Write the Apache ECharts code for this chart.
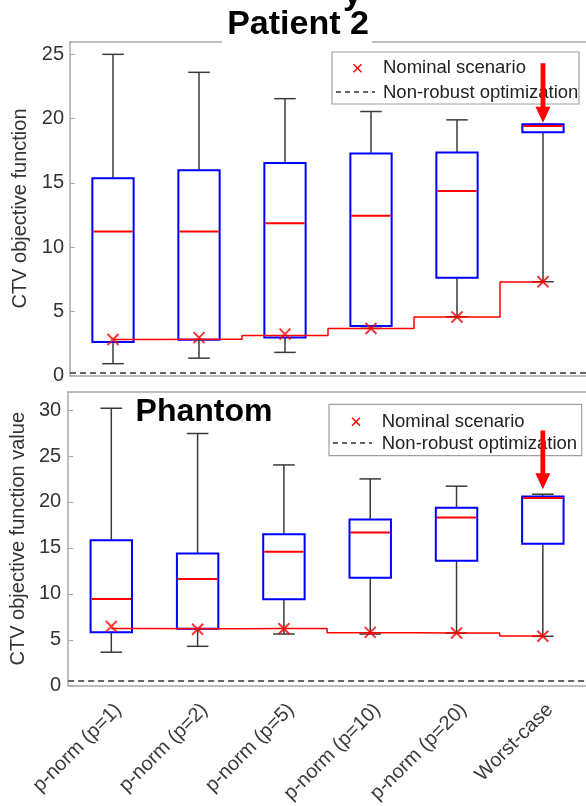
<!DOCTYPE html>
<html><head><meta charset="utf-8">
<script src="https://cdn.jsdelivr.net/npm/echarts@6/dist/echarts.min.js"></script>
<style>html,body{margin:0;padding:0;background:#fff;}#c{width:586px;height:806px;}</style>
</head><body><div id="c"></div>
<script>
// ---------- data ----------
const categories = ['p-norm (p=1)', 'p-norm (p=2)', 'p-norm (p=5)', 'p-norm (p=10)', 'p-norm (p=20)', 'Worst-case'];

// Patient 2 (top panel)
const p2Min     = [0.92, 1.35, 1.80, 3.67, 4.57, 7.30];
const p2Q1      = [2.60, 2.78, 2.96, 3.86, 7.60, 18.93];
const p2Median  = [11.20, 11.20, 11.85, 12.43, 14.36, 19.42];
const p2Q3      = [15.35, 15.98, 16.55, 17.28, 17.36, 19.55];
const p2Max     = [25.00, 23.60, 21.55, 20.55, 19.90, 19.55];
const p2Nominal = [2.80, 2.95, 3.22, 3.66, 4.56, 7.30];
const p2Step    = [2.80, 2.82, 3.12, 3.66, 4.56, 7.28];
const p2NonRobust = 0.25;
const p2Arrow = [5, 24.3, 19.67];
const p2Ticks = [0, 5, 10, 15, 20, 25];

// Phantom (bottom panel)
const phMin     = [3.65, 4.29, 5.63, 5.63, 5.74, 5.38];
const phQ1      = [5.81, 6.20, 9.42, 11.76, 13.60, 15.44];
const phMedian  = [9.45, 11.62, 14.58, 16.67, 18.32, 20.44];
const phQ3      = [15.83, 14.39, 16.48, 18.10, 19.37, 20.59];
const phMax     = [30.20, 27.45, 24.03, 22.51, 21.72, 20.84];
const phNominal = [6.46, 6.15, 6.20, 5.81, 5.74, 5.38];
const phStep    = [6.22, 6.20, 6.22, 5.76, 5.74, 5.42];
const phNonRobust = 0.5;
const phArrow = [5, 27.79, 21.38];
const phTicks = [0, 5, 10, 15, 20, 25, 30];

// ---------- chart ----------
const FONT = '"Liberation Sans", Arial, sans-serif';
const AXIS_COLOR = '#a8a8a8';
const TEXT_COLOR = '#333333';

function boxRows(mn, q1, md, q3, mx) {
  return categories.map((c, i) => [i, mn[i], q1[i], md[i], q3[i], mx[i]]);
}

function renderBox(params, api) {
  const i = api.value(0);
  const x = api.coord([i, 0])[0];
  const band = api.size([1, 0])[0];
  const yMin = api.coord([i, api.value(1)])[1];
  const yQ1 = api.coord([i, api.value(2)])[1];
  const yMed = api.coord([i, api.value(3)])[1];
  const yQ3 = api.coord([i, api.value(4)])[1];
  const yMax = api.coord([i, api.value(5)])[1];
  const hw = band * 0.24, cw = band * 0.125;
  const wl = { stroke: '#3a3a3a', lineWidth: 1.5 };
  return {
    type: 'group', children: [
      { type: 'line', shape: { x1: x, y1: yMax, x2: x, y2: yQ3 }, style: wl },
      { type: 'line', shape: { x1: x, y1: yQ1, x2: x, y2: yMin }, style: wl },
      { type: 'line', shape: { x1: x - cw, y1: yMax, x2: x + cw, y2: yMax }, style: wl },
      { type: 'line', shape: { x1: x - cw, y1: yMin, x2: x + cw, y2: yMin }, style: wl },
      { type: 'rect', shape: { x: x - hw, y: yQ3, width: 2 * hw, height: yQ1 - yQ3 }, style: { fill: 'none', stroke: '#0000ff', lineWidth: 2 } },
      { type: 'line', shape: { x1: x - hw + 1, y1: yMed, x2: x + hw - 1, y2: yMed }, style: { stroke: '#ff0000', lineWidth: 2 } }
    ]
  };
}

function renderArrow(params, api) {
  const i = api.value(0);
  const p0 = api.coord([i, api.value(1)]);
  const p1 = api.coord([i, api.value(2)]);
  const x = p0[0], sw = 2.4, hw = 7.5, hl = 16;
  const yh = p1[1] - hl;
  return {
    type: 'polygon',
    shape: { points: [[x - sw, p0[1]], [x + sw, p0[1]], [x + sw, yh], [x + hw, yh], [x, p1[1]], [x - hw, yh], [x - sw, yh]] },
    style: { fill: '#ff0000' }
  };
}

function xAxisPair(gridIndex, labels) {
  const base = {
    type: 'category', data: categories, gridIndex: gridIndex, boundaryGap: true,
    axisLine: { lineStyle: { color: AXIS_COLOR, width: 1.5 } },
    axisTick: { inside: true, alignWithLabel: true, interval: 0, length: 5, lineStyle: { color: AXIS_COLOR, width: 1 } },
    splitLine: { show: false }
  };
  return [
    Object.assign({}, base, {
      position: 'bottom',
      axisLabel: labels ? { show: true, interval: 0, rotate: 45, fontSize: 20, color: '#3a3a3a', fontFamily: FONT, margin: 14, verticalAlign: 'top' } : { show: false }
    }),
    Object.assign({}, base, { position: 'top', axisLabel: { show: false } })
  ];
}

function yAxisDef(gridIndex, max, ticks, name, gap, margin) {
  return {
    type: 'value', gridIndex: gridIndex, min: 0, max: max,
    name: name, nameLocation: 'middle', nameGap: gap, nameRotate: 90,
    nameTextStyle: { fontSize: 20, color: TEXT_COLOR, fontFamily: FONT },
    axisLine: { show: true, lineStyle: { color: AXIS_COLOR, width: 1.5 } },
    axisTick: { show: true, inside: true, length: 5, customValues: ticks, lineStyle: { color: AXIS_COLOR, width: 1 } },
    axisLabel: { show: true, customValues: ticks, fontSize: 20, color: TEXT_COLOR, fontFamily: FONT, margin: margin },
    splitLine: { show: false }
  };
}

const crossPath = 'path://M0,0L10,10M10,0L0,10';

function panelSeries(xi, yi, mn, q1, md, q3, mx, nominal, step, nonRobust, arrow) {
  return [
    {
      type: 'custom', name: 'Distribution', xAxisIndex: xi, yAxisIndex: yi,
      renderItem: renderBox, data: boxRows(mn, q1, md, q3, mx),
      encode: { x: 0, y: [1, 2, 3, 4, 5] }, z: 3, silent: true
    },
    {
      type: 'line', name: 'Nominal step', xAxisIndex: xi, yAxisIndex: yi,
      data: step, step: 'middle', symbol: 'none',
      lineStyle: { color: '#ff0000', width: 1.5 }, z: 4, silent: true
    },
    {
      type: 'scatter', name: 'Nominal scenario', xAxisIndex: xi, yAxisIndex: yi,
      data: nominal, symbol: crossPath, symbolSize: 11,
      itemStyle: { color: 'rgba(0,0,0,0)', borderColor: '#ff0000', borderWidth: 2 }, z: 5, silent: true
    },
    {
      type: 'line', name: 'Non-robust optimization', xAxisIndex: xi, yAxisIndex: yi,
      data: [], symbol: 'none', silent: true,
      markLine: {
        silent: true, symbol: 'none', label: { show: false },
        lineStyle: { type: [6, 4], color: '#333333', width: 1.5 },
        data: [{ yAxis: nonRobust }]
      }
    },
    {
      type: 'custom', name: 'Arrow', xAxisIndex: xi, yAxisIndex: yi,
      renderItem: renderArrow, data: [arrow], z: 20, silent: true
    }
  ];
}

function legendBox(x, y, w, h, row1, row2, textX, dashX0, dashX1, crossX) {
  return [
    { type: 'rect', z: 10, shape: { x: x, y: y, width: w, height: h }, style: { fill: '#ffffff', stroke: '#a0a0a0', lineWidth: 1.2 } },
    { type: 'line', z: 11, shape: { x1: crossX - 4, y1: row1 - 4, x2: crossX + 4, y2: row1 + 4 }, style: { stroke: '#ff0000', lineWidth: 1.5 } },
    { type: 'line', z: 11, shape: { x1: crossX - 4, y1: row1 + 4, x2: crossX + 4, y2: row1 - 4 }, style: { stroke: '#ff0000', lineWidth: 1.5 } },
    { type: 'text', z: 11, x: textX, y: row1, style: { text: 'Nominal scenario', font: '18.5px ' + FONT, fill: '#222', textVerticalAlign: 'middle' } },
    { type: 'line', z: 11, shape: { x1: dashX0, y1: row2 - 1, x2: dashX1, y2: row2 - 1 }, style: { stroke: '#333', lineWidth: 1.5, lineDash: [5, 4] } },
    { type: 'text', z: 11, x: textX, y: row2, style: { text: 'Non-robust optimization', font: '18.5px ' + FONT, fill: '#222', textVerticalAlign: 'middle' } }
  ];
}

const x0 = xAxisPair(0, false), x1 = xAxisPair(1, true);

const option = {
  backgroundColor: '#ffffff',
  animation: false,
  grid: [
    { left: 70, top: 41.5, width: 526, height: 334 },
    { left: 62.5, top: 391.7, width: 531, height: 296.3 }
  ],
  xAxis: [x0[0], x0[1], x1[0], x1[1]],
  yAxis: [
    yAxisDef(0, 26, p2Ticks, 'CTV objective function', 33, 6),
    yAxisDef(1, 32, phTicks, 'CTV objective function value', 35, 7)
  ],
  series: [].concat(
    panelSeries(0, 0, p2Min, p2Q1, p2Median, p2Q3, p2Max, p2Nominal, p2Step, p2NonRobust, p2Arrow),
    panelSeries(2, 1, phMin, phQ1, phMedian, phQ3, phMax, phNominal, phStep, phNonRobust, phArrow)
  ),
  graphic: { elements: [].concat(
    [
      { type: 'text', z: 30, x: 343, y: 12, style: { text: 'y', font: 'bold 34px ' + FONT, fill: '#000', textVerticalAlign: 'bottom' } },
      { type: 'rect', z: 30, shape: { x: 222, y: 36, width: 150, height: 7 }, style: { fill: '#ffffff' } },
      { type: 'text', z: 31, x: 298, y: 25, style: { text: 'Patient 2', font: 'bold 34px ' + FONT, fill: '#000', textAlign: 'center', textVerticalAlign: 'middle' } },
      { type: 'text', z: 31, x: 204, y: 412, style: { text: 'Phantom', font: 'bold 32px ' + FONT, fill: '#000', textAlign: 'center', textVerticalAlign: 'middle' } }
    ],
    legendBox(332, 52, 247, 52, 68.3, 93, 383, 336, 375, 357.5),
    legendBox(329, 404.3, 252.7, 51.4, 421.7, 444, 381.7, 333, 372, 356)
  ) }
};

const chart = echarts.init(document.getElementById('c'), null, { renderer: 'canvas' });
chart.setOption(option);
</script>
</body></html>
